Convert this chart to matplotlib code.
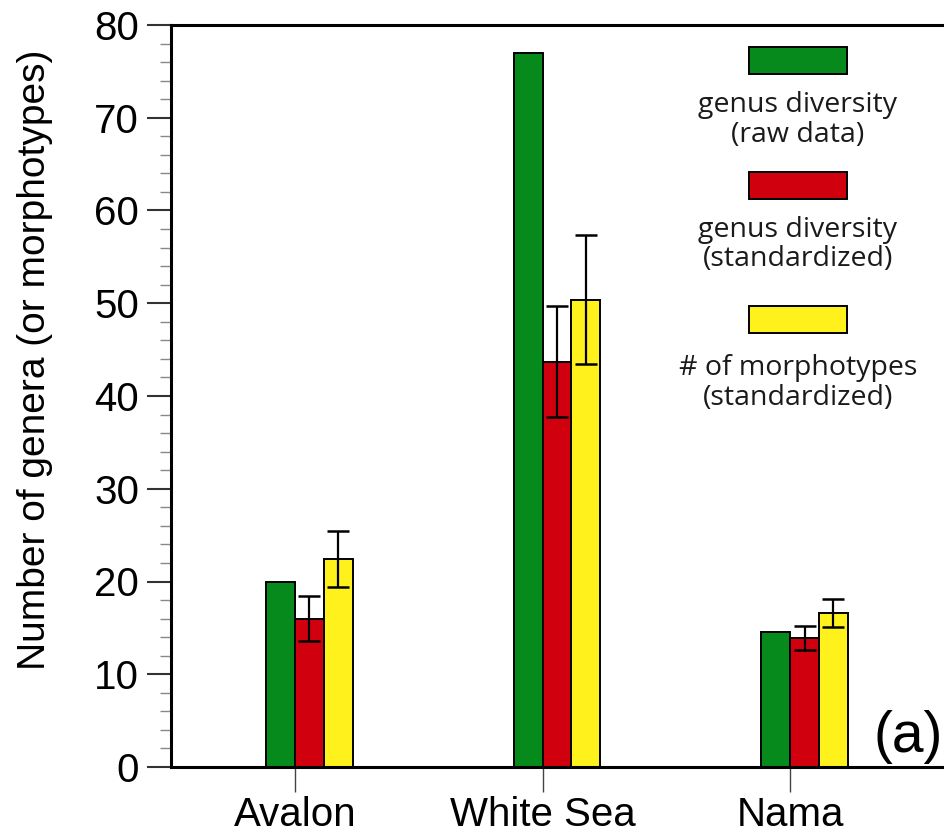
import numpy as np
import matplotlib
matplotlib.use('Agg')
import matplotlib.pyplot as plt
from matplotlib.patches import Rectangle
from matplotlib.ticker import MultipleLocator

plt.rcParams['font.family'] = ['Liberation Sans', 'DejaVu Sans']

# data
sites = ['Avalon', 'White Sea', 'Nama']
raw_genera = [20.0, 77.0, 14.6]
std_genera = [16.0, 43.7, 13.9]
std_genera_err = [2.45, 6.0, 1.3]
std_morpho = [22.4, 50.4, 16.6]
std_morpho_err = [3.0, 7.0, 1.5]

series_labels = ['genus diversity\n(raw data)',
                 'genus diversity\n(standardized)',
                 '# of morphotypes\n(standardized)']
green = '#078a1c'
red = '#d0000e'
yellow = '#fff21c'

fig = plt.figure(figsize=(9.45, 8.35), dpi=100)
ax = fig.add_axes([171/945, 68/835, 1 - 171/945, 742/835])

x = np.arange(len(sites))
w = 0.117
err_kw = dict(ecolor='black', elinewidth=1.6, capsize=8, capthick=1.8)

ax.bar(x - w/2, raw_genera, w, color=green, edgecolor='black', linewidth=1.4, zorder=2)
ax.bar(x + w/2, std_genera, w, color=red, edgecolor='black', linewidth=1.4,
       yerr=std_genera_err, error_kw=err_kw, zorder=2)
ax.bar(x + 1.5*w, std_morpho, w, color=yellow, edgecolor='black', linewidth=1.4,
       yerr=std_morpho_err, error_kw=err_kw, zorder=2)

ax.set_xlim(-0.501, 2.626)
ax.set_ylim(0, 80)
ax.set_xticks(x)
ax.set_xticklabels(sites, fontsize=29)
ax.yaxis.set_major_locator(MultipleLocator(10))
ax.yaxis.set_minor_locator(MultipleLocator(2))
ax.tick_params(axis='y', which='major', direction='out', length=17, width=1.5,
               color='#333333', labelsize=29, pad=6)
ax.tick_params(axis='y', which='minor', direction='out', length=8, width=1.0,
               color='#888888')
ax.tick_params(axis='x', which='major', direction='out', length=18, width=1.0,
               color='#444444', pad=3)
ax.set_ylabel('Number of genera (or morphotypes)', fontsize=28)
ax.yaxis.set_label_coords((53 - 171)/774, (767 - 360)/742)

for side in ['left', 'bottom', 'top']:
    ax.spines[side].set_linewidth(2.2)
ax.spines['right'].set_visible(False)

ax.text(943/945, 1 - 752/835, '(a)', transform=fig.transFigure, fontsize=41,
        ha='right', va='baseline')

# legend: swatch with a two line caption underneath
swatch_tops = [47, 172, 306]
caption_baselines = [(112, 142), (237, 266), (375, 405)]
for col, lab, top, (b1, b2) in zip([green, red, yellow], series_labels,
                                    swatch_tops, caption_baselines):
    fig.patches.append(Rectangle((749/945, 1 - (top + 27)/835), 98/945, 27/835,
                                 transform=fig.transFigure, facecolor=col,
                                 edgecolor='black', linewidth=1.4))
    line1, line2 = lab.split('\n')
    for txt, b in [(line1, b1), (line2, b2)]:
        fig.text(798/945, 1 - b/835, txt, ha='center', va='baseline',
                 fontsize=20.5, family=['Open Sans', 'DejaVu Sans'], color='#1a1a1a')

fig.savefig('out.png', dpi=100)
